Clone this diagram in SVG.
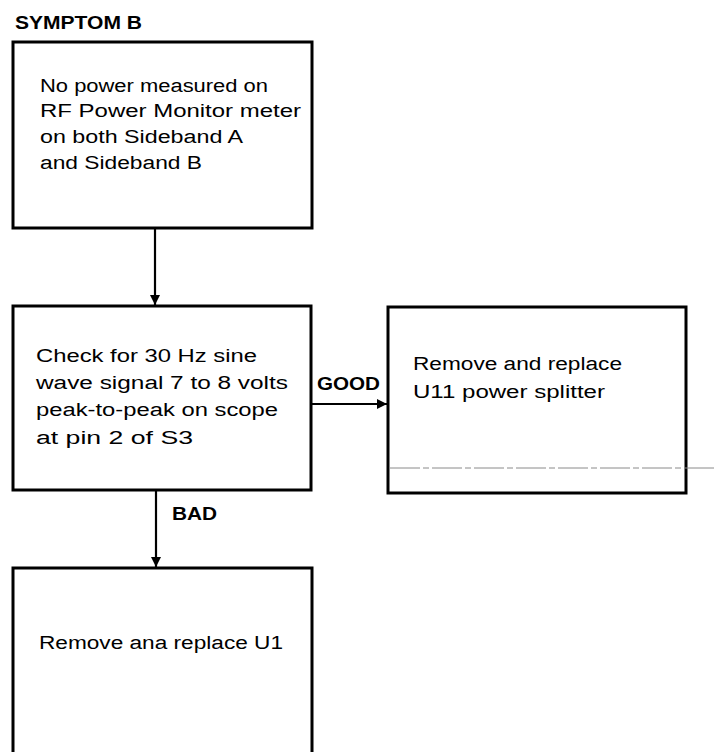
<svg xmlns="http://www.w3.org/2000/svg" width="715" height="752" viewBox="0 0 715 752">
  <style>
    .box { fill: none; stroke: #000; stroke-width: 3; stroke-linejoin: miter; }
    .txt { font-family: "Liberation Sans", Arial, sans-serif; font-size: 18px; fill: #000; }
    .lbl { font-family: "Liberation Sans", Arial, sans-serif; font-size: 18px; font-weight: bold; fill: #000; }
    .wire { fill: none; stroke: #000; stroke-width: 2.2; }
  </style>
  <defs>
    <marker id="arrow" viewBox="0 0 10 10" refX="10" refY="5" markerWidth="10" markerHeight="10" markerUnits="userSpaceOnUse" orient="auto">
      <path d="M0,0 L10,5 L0,10 Z" fill="#000"/>
    </marker>
  </defs>
  <rect width="715" height="752" fill="#fff"/>

  <text class="lbl" x="15" y="29" textLength="127" lengthAdjust="spacingAndGlyphs">SYMPTOM B</text>

  <g id="symptom">
    <rect class="box" x="13" y="42" width="299" height="186"/>
    <text class="txt" x="40" y="92" textLength="228" lengthAdjust="spacingAndGlyphs">No power measured on</text>
    <text class="txt" x="40" y="117" textLength="261" lengthAdjust="spacingAndGlyphs">RF Power Monitor meter</text>
    <text class="txt" x="40" y="143" textLength="203" lengthAdjust="spacingAndGlyphs">on both Sideband A</text>
    <text class="txt" x="40" y="169" textLength="162" lengthAdjust="spacingAndGlyphs">and Sideband B</text>
  </g>

  <g id="check">
    <rect class="box" x="13" y="306" width="298" height="184"/>
    <text class="txt" x="36" y="362" textLength="221" lengthAdjust="spacingAndGlyphs">Check for 30 Hz sine</text>
    <text class="txt" x="36" y="389" textLength="252" lengthAdjust="spacingAndGlyphs">wave signal 7 to 8 volts</text>
    <text class="txt" x="36" y="416" textLength="242" lengthAdjust="spacingAndGlyphs">peak-to-peak on scope</text>
    <text class="txt" x="36" y="444" textLength="157" lengthAdjust="spacingAndGlyphs">at pin 2 of S3</text>
  </g>

  <g id="replace-u11">
    <rect class="box" x="388" y="307" width="298" height="186"/>
    <text class="txt" x="413" y="370" textLength="209" lengthAdjust="spacingAndGlyphs">Remove and replace</text>
    <text class="txt" x="413" y="398" textLength="192" lengthAdjust="spacingAndGlyphs">U11 power splitter</text>
  </g>

  <g id="replace-u1">
    <path class="box" d="M13,760 V568 H312 V760"/>
    <text class="txt" x="39" y="649" textLength="244" lengthAdjust="spacingAndGlyphs">Remove ana replace U1</text>
  </g>

  <g id="connectors">
    <line class="wire" x1="155" y1="228" x2="155" y2="305" marker-end="url(#arrow)"/>
    <line class="wire" x1="311" y1="404" x2="387" y2="404" marker-end="url(#arrow)"/>
    <text class="lbl" x="317" y="390" textLength="63" lengthAdjust="spacingAndGlyphs">GOOD</text>
    <line class="wire" x1="156" y1="490" x2="156" y2="567" marker-end="url(#arrow)"/>
    <text class="lbl" x="172" y="520" textLength="45" lengthAdjust="spacingAndGlyphs">BAD</text>
  </g>

  <!-- faint rule crossing the right-hand box -->
  <line x1="390" y1="468" x2="715" y2="468" stroke="#8a8a8a" stroke-width="1" stroke-dasharray="30 3 6 3"/>
</svg>
